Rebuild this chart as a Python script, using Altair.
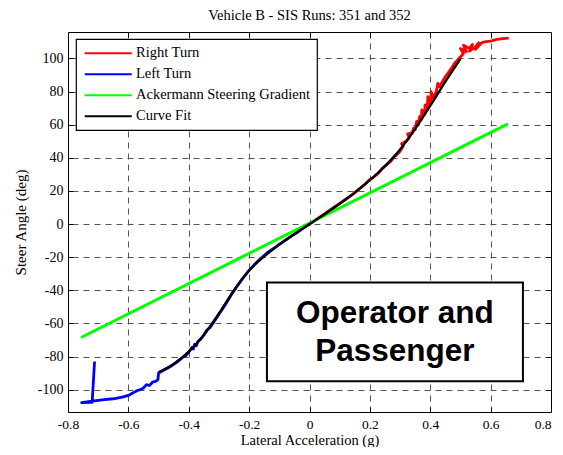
import altair as alt
import pandas as pd

# ---------------- data ----------------
series_names = ["Right Turn", "Left Turn", "Ackermann Steering Gradient", "Curve Fit"]
series_colors = ["#ff0000", "#0000ff", "#00ff00", "#000000"]

red_x = [0.000, 0.02, 0.04, 0.06, 0.08, 0.10, 0.12, 0.14, 0.16, 0.18, 0.20, 0.21, 0.22, 0.23,
         0.24, 0.25, 0.26, 0.27, 0.28, 0.29, 0.30, 0.31, 0.305, 0.32, 0.33, 0.325, 0.34, 0.345,
         0.35, 0.355, 0.36, 0.365, 0.37, 0.372, 0.38, 0.383, 0.39, 0.392, 0.40, 0.403, 0.41,
         0.42, 0.425, 0.43, 0.44, 0.45, 0.46, 0.47, 0.48, 0.49, 0.50, 0.51, 0.50, 0.52, 0.51, 0.53,
         0.54, 0.53, 0.55, 0.56, 0.55, 0.57, 0.58, 0.60, 0.62, 0.64, 0.66]
red_y = [0.0, 2.5, 5.0, 7.5, 10.0, 12.5, 15.0, 17.5, 20.5, 23.5, 27.0, 28.0, 29.5, 31.0,
         33.5, 35.0, 36.5, 38.0, 40.5, 42.0, 44.0, 47.0, 48.5, 50.0, 52.0, 54.5, 55.0, 58.0,
         57.0, 62.0, 60.0, 65.0, 63.0, 69.0, 66.0, 72.0, 69.0, 77.0, 72.5, 80.0, 76.0,
         80.0, 85.0, 83.0, 86.0, 89.0, 91.5, 94.0, 97.0, 99.0, 101.0, 103.0, 106.0, 104.0, 108.0, 106.0,
         108.5, 104.5, 107.0, 109.5, 105.5, 109.5, 110.0, 110.5, 111.5, 112.0, 112.3]

blue_x = [0.0, -0.02, -0.04, -0.06, -0.08, -0.10, -0.12, -0.14, -0.16, -0.18, -0.20, -0.22,
          -0.24, -0.26, -0.28, -0.30, -0.32, -0.33, -0.34, -0.35, -0.36, -0.37, -0.375, -0.38,
          -0.385, -0.39, -0.40, -0.41, -0.42, -0.44, -0.46, -0.48, -0.50, -0.502, -0.51, -0.52,
          -0.53, -0.54, -0.55, -0.56, -0.57, -0.58, -0.59, -0.60, -0.62, -0.65, -0.68, -0.70,
          -0.72, -0.755, -0.72, -0.712]
blue_y = [0.0, -2.5, -5.0, -7.3, -9.8, -12.3, -14.8, -17.3, -20.5, -24.0, -28.0, -32.5,
          -37.5, -43.0, -49.0, -54.5, -60.0, -62.5, -64.0, -67.0, -69.5, -71.0, -73.5, -72.5,
          -75.5, -74.5, -77.5, -79.5, -80.5, -83.5, -86.0, -88.0, -90.0, -94.0, -95.0, -95.5,
          -97.5, -97.0, -99.0, -100.0, -100.5, -101.5, -102.5, -103.5, -104.5, -105.5, -106.0, -106.5,
          -107.0, -107.8, -107.6, -83.0]

green_x = [-0.757, 0.657]
green_y = [-68.5, 60.5]

fit_x = [-0.50, -0.45, -0.40, -0.35, -0.30, -0.25, -0.20, -0.15, -0.10, -0.05, 0.00,
         0.05, 0.10, 0.15, 0.20, 0.25, 0.30, 0.35, 0.40, 0.45, 0.50]
fit_y = [-89.5, -84.5, -77.0, -67.0, -54.0, -40.0, -28.0, -19.5, -12.3, -6.0, 0.0,
         6.0, 12.3, 19.0, 26.5, 35.0, 45.0, 57.5, 71.5, 86.0, 99.8]

x_ticks = [-0.8, -0.6, -0.4, -0.2, 0, 0.2, 0.4, 0.6, 0.8]
x_inner = [-0.6, -0.4, -0.2, 0, 0.2, 0.4, 0.6]
y_ticks = [-100, -80, -60, -40, -20, 0, 20, 40, 60, 80, 100]

note_box_x = [-0.141, 0.707]
note_box_y = [-35.3, -94.9]
note_lines = ["Operator and", "Passenger"]
note_x = [0.283, 0.283]
note_y = [-54.5, -77.5]

title_text = "Vehicle B - SIS Runs: 351 and 352"
x_title = "Lateral Acceleration (g)"
y_title = "Steer Angle (deg)"

# ---------------- layout constants ----------------
W, H = 483, 380
SERIF = "Liberation Serif"

def frame(name, xs, ys):
    return pd.DataFrame({"x": xs, "y": ys, "i": list(range(len(xs))), "series": name})

red_df = frame(series_names[0], red_x, red_y)
blue_df = frame(series_names[1], blue_x, blue_y)
green_df = frame(series_names[2], green_x, green_y)
fit_df = frame(series_names[3], fit_x, fit_y)
box_df = pd.DataFrame({"x0": [note_box_x[0]], "x1": [note_box_x[1]],
                       "y0": [note_box_y[0]], "y1": [note_box_y[1]]})
note_df = pd.DataFrame({"x": note_x, "y": note_y, "t": note_lines})

xs = alt.Scale(domain=[-0.8, 0.8], nice=False, zero=False)
ys = alt.Scale(domain=[-113.5, 116], nice=False, zero=False)

legend = alt.Legend(
    orient="none", legendX=8, legendY=7, title=None,
    symbolType="M-1.1,0H8.3", symbolSize=100, symbolStrokeWidth=2,
    labelFont=SERIF, labelFontSize=14.5, labelColor="black", labelOffset=38.5,
    labelLimit=400,
    rowPadding=6, padding=7, strokeColor="black", fillColor="white",
)
color = alt.Color("series:N", scale=alt.Scale(domain=series_names, range=series_colors),
                  legend=legend)

label_expr = "'' + datum.value"

# main axes: labels + titles
ax_x_main = alt.Axis(orient="bottom", values=x_ticks, labelExpr=label_expr, grid=False,
                     ticks=False, tickSize=0, domain=False, labelPadding=5,
                     labelAlign={"condition": {"test": "datum.value > 0.79", "value": "right"},
                                 "value": "center"},
                     labelFont=SERIF, labelFontSize=13.5, labelColor="black",
                     title=x_title, titleFont=SERIF, titleFontSize=14.5, titleFontWeight="normal",
                     titleX=W / 2, titleY=28.5, titleBaseline="middle", titleAlign="center",
                     titleColor="black")
ax_y_main = alt.Axis(orient="left", values=y_ticks, labelExpr=label_expr, grid=False,
                     ticks=False, tickSize=0, domain=False, labelPadding=5,
                     labelFont=SERIF, labelFontSize=14, labelColor="black",
                     title=y_title, titleFont=SERIF, titleFontSize=15, titleFontWeight="normal",
                     titleX=-48, titleY=H / 2, titleAngle=270, titleBaseline="middle",
                     titleAlign="center", titleColor="black")

# inward ticks + dashed grid
grid_kw = dict(grid=True, gridDash=[6, 5], gridColor="#555555", gridWidth=1)
ax_x_bot_ticks = alt.Axis(orient="top", offset=-H, values=x_inner, labels=False, domain=False,
                          ticks=True, tickSize=5, tickColor="black", title=None, **grid_kw)
ax_y_left_ticks = alt.Axis(orient="right", offset=-W, values=y_ticks, labels=False, domain=False,
                           ticks=True, tickSize=5, tickColor="black", title=None, **grid_kw)
ax_x_top_ticks = alt.Axis(orient="bottom", offset=-H, values=x_inner, labels=False, domain=False,
                          ticks=True, tickSize=5, tickColor="black", title=None, grid=False)
ax_y_right_ticks = alt.Axis(orient="left", offset=-W, values=y_ticks, labels=False, domain=False,
                            ticks=True, tickSize=5, tickColor="black", title=None, grid=False)


def line_layer(df, width, xaxis, yaxis, interp="linear"):
    return alt.Chart(df).mark_line(strokeWidth=width, interpolate=interp, strokeJoin="round").encode(
        x=alt.X("x:Q", scale=xs, axis=xaxis),
        y=alt.Y("y:Q", scale=ys, axis=yaxis),
        color=color,
        order=alt.Order("i:Q"),
    )

red_layer = line_layer(red_df, 2.8, ax_x_main, ax_y_main)
blue_layer = line_layer(blue_df, 2.8, ax_x_bot_ticks, ax_y_left_ticks)
green_layer = line_layer(green_df, 3, ax_x_top_ticks, ax_y_right_ticks)
fit_layer = line_layer(fit_df, 2.4, None, None, "monotone")

box_layer = alt.Chart(box_df).mark_rect(fill="white", stroke="black", strokeWidth=2).encode(
    x=alt.X("x0:Q", scale=xs, axis=None), x2="x1:Q",
    y=alt.Y("y0:Q", scale=ys, axis=None), y2="y1:Q",
)
note_layer = alt.Chart(note_df).mark_text(
    font="Liberation Sans", fontSize=31.5, fontWeight="bold", color="black",
    align="center", baseline="middle",
).encode(
    x=alt.X("x:Q", scale=xs, axis=None),
    y=alt.Y("y:Q", scale=ys, axis=None),
    text="t:N",
)

chart = alt.layer(
    red_layer, blue_layer, green_layer, fit_layer, box_layer, note_layer
).resolve_axis(
    x="independent", y="independent"
).properties(
    width=W, height=H,
    autosize=alt.AutoSizeParams(type="none"),
    padding={"left": 60, "top": 24, "right": 4, "bottom": 35},
    background="white",
    title=alt.TitleParams(title_text, font=SERIF, fontSize=14.5, fontWeight="normal",
                          color="black", anchor="middle", offset=8, frame="group"),
).configure_view(
    stroke="black", strokeWidth=1
).configure_legend(
    strokeWidth=1.2
)

chart.save("out.html", embed_options={"renderer": "svg", "actions": False})
